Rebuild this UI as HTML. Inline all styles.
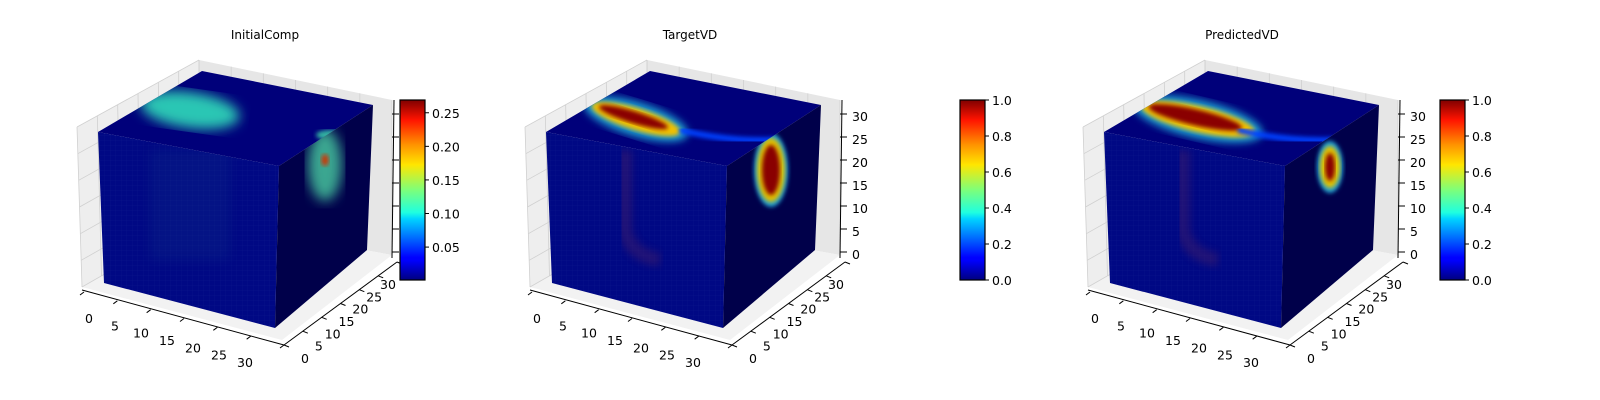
<!DOCTYPE html>
<html><head><meta charset="utf-8"><style>
html,body{margin:0;padding:0;background:#fff;}
svg{display:block;font-family:"DejaVu Sans","Liberation Sans",sans-serif;}
</style></head><body>
<svg id="fig" width="1600" height="400" viewBox="0 0 1600 400">
<defs>
<linearGradient id="jet" x1="0" y1="1" x2="0" y2="0">
<stop offset="0" stop-color="#00007f"/><stop offset="0.11" stop-color="#0000ff"/>
<stop offset="0.125" stop-color="#0000ff"/><stop offset="0.34" stop-color="#00d4ff"/>
<stop offset="0.375" stop-color="#1fffe0"/><stop offset="0.5" stop-color="#7dff7a"/>
<stop offset="0.64" stop-color="#ffe600"/><stop offset="0.75" stop-color="#ff9400"/>
<stop offset="0.89" stop-color="#ff1300"/><stop offset="1" stop-color="#7f0000"/>
</linearGradient>
<filter id="blur4"><feGaussianBlur stdDeviation="4"/></filter>
<filter id="blur6"><feGaussianBlur stdDeviation="6"/></filter>
<filter id="blur2"><feGaussianBlur stdDeviation="2"/></filter>
<pattern id="grid" width="5.5" height="5" patternUnits="userSpaceOnUse"><path d="M0 0H5.5M0 0V5" stroke="#3040a0" stroke-width="0.4" opacity="0.3" fill="none"/></pattern>
</defs>
</svg>
<script>
const NS='http://www.w3.org/2000/svg';
const svg=document.getElementById('fig');
const titles=['InitialComp','TargetVD','PredictedVD'];
const axisTicks=[0,5,10,15,20,25,30];
const cbTicks1=[0.05,0.10,0.15,0.20,0.25];
const cbLabels1=['0.05','0.10','0.15','0.20','0.25'];
const cbRange1=[0.001,0.269];
const cbTicks2=[0.0,0.2,0.4,0.6,0.8,1.0];
const cbLabels2=['0.0','0.2','0.4','0.6','0.8','1.0'];
const cbRange2=[0,1];
const offsets=[-448,0,558];
const cbX=[400,960,1440];
function el(tag,attrs,parent){const e=document.createElementNS(NS,tag);for(const k in attrs)e.setAttribute(k,attrs[k]);(parent||svg).appendChild(e);return e;}
function pts(a,dx){return a.map(p=>(p[0]+dx)+','+p[1]).join(' ');}
function lerp(a,b,t){return [a[0]+(b[0]-a[0])*t,a[1]+(b[1]-a[1])*t];}
for(let i=0;i<3;i++){
  const dx=offsets[i];
  const g=el('g',{});
  
  
  const t=el('text',{x:[265,690,1242][i],y:39,'font-size':12,'text-anchor':'middle',fill:'#000'},g);
  t.textContent=titles[i];
  
  
  const left=el('polygon',{points:pts([[525,127],[647,60],[647,220],[530,287]],dx),fill:'#eeeeee'},g);
  
  const back=el('polygon',{points:pts([[647,60],[840,100],[840,255],[647,220]],dx),fill:'#e6e6e6'},g);
  
  const floor=el('polygon',{points:pts([[530,287],[647,220],[840,255],[730,340]],dx),fill:'#f2f2f2'},g);
  
  axisTicks.forEach((v,k)=>{const f=v/30;
    let a=lerp([525,127],[647,60],f),b=lerp([530,287],[647,220],f);
    el('line',{x1:a[0]+dx,y1:a[1],x2:b[0]+dx,y2:b[1],stroke:'#d0d0d0','stroke-width':0.8},g);
    a=lerp([647,60],[840,100],f);b=lerp([647,220],[840,255],f);
    el('line',{x1:a[0]+dx,y1:a[1],x2:b[0]+dx,y2:b[1],stroke:'#d0d0d0','stroke-width':0.8},g);
    a=lerp([525,127],[530,287],f);b=lerp([647,60],[647,220],f);
    el('line',{x1:a[0]+dx,y1:a[1],x2:b[0]+dx,y2:b[1],stroke:'#d0d0d0','stroke-width':0.8},g);
  });
  const top=[[546,132],[727,166],[821,105],[650,71]];
  const front=[[546,132],[727,166],[723,328],[552,283]];
  const right=[[727,166],[821,105],[815,250],[723,328]];
  const cid='c'+i;
  const cpT=el('clipPath',{id:cid+'t'},g);el('polygon',{points:pts(top,dx)},cpT);
  const cpF=el('clipPath',{id:cid+'f'},g);el('polygon',{points:pts(front,dx)},cpF);
  const cpR=el('clipPath',{id:cid+'r'},g);el('polygon',{points:pts(right,dx)},cpR);
  const ft=el('polygon',{points:pts(top,dx),fill:'#00007a'},g);
  
  const ff=el('polygon',{points:pts(front,dx),fill:'#000884'},g);
  
  el('polygon',{points:pts(front,dx),fill:'url(#grid)'},g);
  const fr=el('polygon',{points:pts(right,dx),fill:'#00004a'},g);
  
  const gt=el('g',{'clip-path':'url(#'+cid+'t)'},g);
  const gr=el('g',{'clip-path':'url(#'+cid+'r)'},g);
  const gf=el('g',{'clip-path':'url(#'+cid+'f)',opacity:0.25},g);
  if(i===0){
    el('ellipse',{cx:190+448+dx,cy:110,rx:50,ry:18,fill:'#2cc6b4',transform:`rotate(8 ${190+448+dx} 110)`,filter:'url(#blur6)'},gt);
    el('ellipse',{cx:325+448+dx,cy:165,rx:17,ry:36,fill:'#3aa690',filter:'url(#blur6)'},gr);
    el('ellipse',{cx:325+448+dx,cy:160,rx:4,ry:6,fill:'#c04010',filter:'url(#blur2)'},gr);
    el('ellipse',{cx:330+448+dx,cy:135,rx:14,ry:5,fill:'#30b0a0',filter:'url(#blur2)'},gt);
    el('rect',{x:150+448+dx,y:150,width:80,height:110,fill:'#1a5a90',filter:'url(#blur6)',opacity:0.6},gf);
  } else {
    const big=i===2;
    const c1=big?[1198-558,119]:[636,119], rxT=big?58:46, ryT=big?13:11, rot=big?13:17;
    el('ellipse',{cx:c1[0]+dx,cy:c1[1],rx:rxT+8,ry:ryT+6,fill:'#1fa0d0',transform:`rotate(${rot} ${c1[0]+dx} ${c1[1]})`,filter:'url(#blur4)'},gt);
    el('ellipse',{cx:c1[0]+dx,cy:c1[1],rx:rxT,ry:ryT,fill:'#f0c000',transform:`rotate(${rot} ${c1[0]+dx} ${c1[1]})`,filter:'url(#blur2)'},gt);
    el('ellipse',{cx:c1[0]+dx-3,cy:c1[1]-1,rx:rxT-10,ry:ryT-5,fill:'#8a0000',transform:`rotate(${rot} ${c1[0]+dx} ${c1[1]})`,filter:'url(#blur2)'},gt);
    el('path',{d:`M${680+dx} 130 Q${730+dx} 142 ${775+dx} 140`,stroke:'#0040ff','stroke-width':6,fill:'none',filter:'url(#blur2)'},gt);
    const c2=big?[1330-558,167]:[771,170], rxR=big?10:14, ryR=big?23:34;
    el('ellipse',{cx:c2[0]+dx,cy:c2[1],rx:rxR+3,ry:ryR+3,fill:'#20a0d0',filter:'url(#blur2)'},gr);
    el('ellipse',{cx:c2[0]+dx,cy:c2[1],rx:rxR,ry:ryR-2,fill:'#e0c000',filter:'url(#blur2)'},gr);
    el('ellipse',{cx:c2[0]+dx,cy:c2[1],rx:rxR-5,ry:ryR-9,fill:'#8a0000',filter:'url(#blur2)'},gr);
    el('path',{d:`M${625+dx} 150 L${625+dx} 230 Q${630+dx} 255 ${660+dx} 260`,stroke:'#803050','stroke-width':14,fill:'none',filter:'url(#blur4)'},gf);
  }
  axisTicks.forEach(v=>{const f=v/30;
    const p=lerp([537,318],[693,362],f);
    const tx=el('text',{x:p[0]+dx,y:p[1]+5,'font-size':12.5,'text-anchor':'middle',fill:'#000'},g);
    tx.textContent=v;
    
    const q=lerp([753,358],[836,284],f);
    const ty=el('text',{x:q[0]+dx,y:q[1]+5,'font-size':12.5,'text-anchor':'middle',fill:'#000'},g);
    ty.textContent=v;
    
    const a=lerp([532,292],[732,345],f);
    el('line',{x1:a[0]+dx,y1:a[1],x2:a[0]+dx-4,y2:a[1]+3,stroke:'#000','stroke-width':1},g);
    const b=lerp([732,345],[845,262],f);
    el('line',{x1:b[0]+dx,y1:b[1],x2:b[0]+dx+5,y2:b[1]+2,stroke:'#000','stroke-width':1},g);
    const zy=255+(117-255)*f;
    el('line',{x1:840+dx,y1:zy-3,x2:847+dx,y2:zy-3,stroke:'#000','stroke-width':1},g);
    if(i>0){const tz=el('text',{x:852+dx,y:zy+4,'font-size':12.5,fill:'#000'},g);
      tz.textContent=v;
      }
  });
  el('line',{x1:530+dx,y1:290,x2:732+dx,y2:345,stroke:'#000','stroke-width':1},g);
  el('line',{x1:732+dx,y1:345,x2:845+dx,y2:262,stroke:'#000','stroke-width':1},g);
  el('line',{x1:840+dx,y1:258,x2:842+dx,y2:100,stroke:'#000','stroke-width':1},g);
  const cx=cbX[i];
  const cb=el('rect',{x:cx,y:100,width:25,height:180,fill:'url(#jet)',stroke:'#000','stroke-width':1.2},g);
  
  const ticks=i===0?cbTicks1:cbTicks2, labs=i===0?cbLabels1:cbLabels2, rng=i===0?cbRange1:cbRange2;
  ticks.forEach((v,k)=>{const y=280-(v-rng[0])/(rng[1]-rng[0])*180;
    el('line',{x1:cx+25,y1:y,x2:cx+29,y2:y,stroke:'#000','stroke-width':1},g);
    const l=el('text',{x:cx+32,y:y+5,'font-size':12.5,fill:'#000'},g);
    l.textContent=labs[k];
    
  });
}
</script>
</body></html>
